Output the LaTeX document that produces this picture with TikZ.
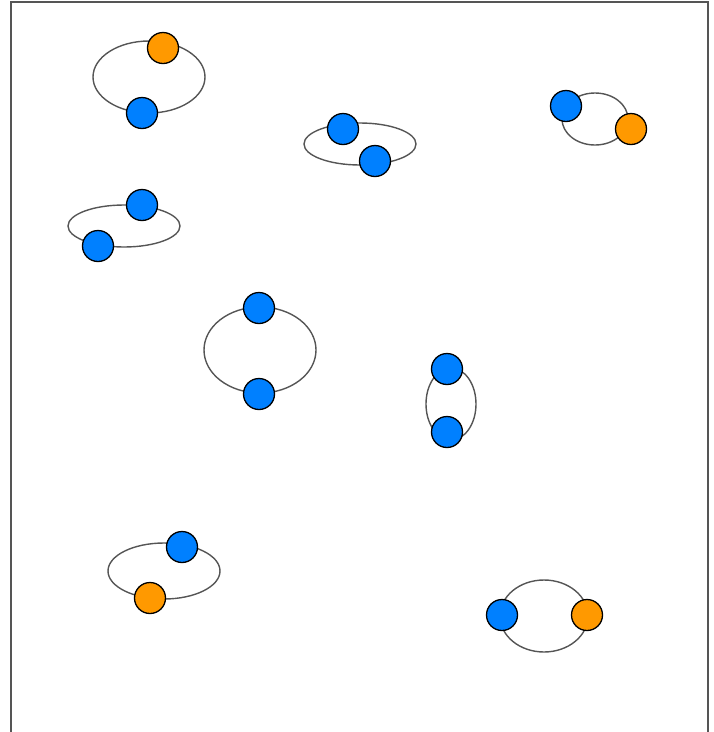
\documentclass[tikz,border=0pt]{standalone}
\usepackage{tikz}
\usetikzlibrary{shapes.geometric}

\definecolor{ballblue}{HTML}{0080FF}
\definecolor{ballorange}{HTML}{FF9900}
\definecolor{ringgray}{HTML}{555555}

\tikzset{
	ring/.style={draw=ringgray, line width=1.4pt, ellipse, inner sep=0pt},
	ball/.style={circle, draw=black, line width=1.3pt, minimum size=31pt, inner sep=0pt},
	blueball/.style={ball, fill=ballblue},
	orangeball/.style={ball, fill=ballorange}
}

\begin{document}
\begin{tikzpicture}[x=1pt, y=-1pt]
	\useasboundingbox (0,0) rectangle (714,732);
	% frame, open at the bottom
	\draw[ringgray, line width=1.4pt] (11,732) -- (11,2) -- (708,2) -- (708,732);
	% rings
	\node[ring, minimum width=112pt, minimum height=72pt] (r1) at (149,77) {};
	\node[ring, minimum width=112pt, minimum height=42pt] (r2) at (360,144) {};
	\node[ring, minimum width=66pt, minimum height=52pt] (r3) at (595,119) {};
	\node[ring, minimum width=112pt, minimum height=42pt] (r4) at (124,226) {};
	\node[ring, minimum width=112pt, minimum height=86pt] (r5) at (260,350) {};
	\node[ring, minimum width=50pt, minimum height=72pt] (r6) at (451,404) {};
	\node[ring, minimum width=112pt, minimum height=56pt] (r7) at (164,571) {};
	\node[ring, minimum width=88pt, minimum height=72pt] (r8) at (544,616) {};
	% balls on the rings
	\node[orangeball] (a1) at (163,48) {};
	\node[blueball] (b1) at (142,113) {};
	\node[blueball] (a2) at (343,129) {};
	\node[blueball] (b2) at (375,161) {};
	\node[blueball] (a3) at (566,106) {};
	\node[orangeball] (b3) at (631,129) {};
	\node[blueball] (a4) at (142,205) {};
	\node[blueball] (b4) at (98,246) {};
	\node[blueball] (a5) at (259,308) {};
	\node[blueball] (b5) at (259,394) {};
	\node[blueball] (a6) at (447,369) {};
	\node[blueball] (b6) at (447,432) {};
	\node[blueball] (a7) at (182,547) {};
	\node[orangeball] (b7) at (150,598) {};
	\node[blueball] (a8) at (502,615) {};
	\node[orangeball] (b8) at (587,615) {};
\end{tikzpicture}
\end{document}
